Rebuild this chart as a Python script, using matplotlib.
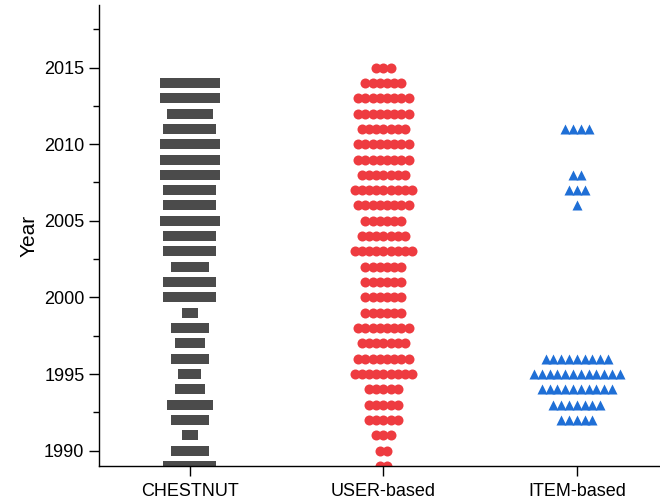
import matplotlib
matplotlib.use('Agg')
import matplotlib.pyplot as plt
import numpy as np
from matplotlib.ticker import MultipleLocator

plt.rcParams['font.family'] = ['Liberation Sans', 'DejaVu Sans']

categories = ['CHESTNUT', 'USER-based', 'ITEM-based']

chestnut_years = list(range(2014, 1988, -1))
chestnut_counts = [8, 8, 6, 7, 8, 8, 8, 7, 7, 8, 7, 7, 5, 7, 7, 2, 5, 4, 5, 3, 4, 6, 5, 2, 5, 7]

user_years = list(range(2015, 1988, -1))
user_counts = [3, 6, 8, 8, 7, 8, 8, 7, 9, 8, 6, 7, 9, 6, 6, 6, 6, 8, 7, 8, 9, 5, 5, 5, 3, 2, 2]

item_years = [2011, 2008, 2007, 2006, 1996, 1995, 1994, 1993, 1992]
item_counts = [4, 2, 3, 1, 9, 12, 10, 7, 5]

colors = ['#4b4b4b', '#ee3b40', '#1f6fd6']
rect = [(-0.78, -1), (0.78, -1), (0.78, 1), (-0.78, 1), (-0.78, -1)]
markers = [rect, 'o', '^']
sizes = [42, 52, 52]
spacing_px = [7.5, 7.2, 7.8]

W, H, DPI = 6.6, 5.03, 100
fig = plt.figure(figsize=(W, H), dpi=DPI)
ax = fig.add_axes([0.15, 0.0726, 0.85, 0.9174])
xmin, xmax = 0.53, 3.43
ax.set_xlim(xmin, xmax)
ax.set_ylim(1988.97, 2019.08)
px_per_unit = W * DPI * 0.85 / (xmax - xmin)

groups = [(chestnut_years, chestnut_counts), (user_years, user_counts), (item_years, item_counts)]
for gi, (years, counts) in enumerate(groups):
    xs, ys = [], []
    sp = spacing_px[gi] / px_per_unit
    for y, n in zip(years, counts):
        for i in range(n):
            xs.append(gi + 1 + (i - (n - 1) / 2) * sp)
            ys.append(y)
    ax.scatter(xs, ys, marker=markers[gi], s=sizes[gi], color=colors[gi],
               linewidths=0, zorder=2)

ax.set_xticks([1, 2, 3])
ax.set_xticklabels(categories, fontsize=13)
ax.yaxis.set_major_locator(MultipleLocator(5))
ax.yaxis.set_minor_locator(MultipleLocator(2.5))
ax.tick_params(axis='y', which='major', length=7, width=1, labelsize=13)
ax.tick_params(axis='y', which='minor', length=4, width=1)
ax.tick_params(axis='x', which='major', length=7, width=1, pad=5)
ax.set_ylabel('Year', fontsize=15)
for s in ['top', 'right']:
    ax.spines[s].set_visible(False)
for s in ['left', 'bottom']:
    ax.spines[s].set_linewidth(1)
    ax.spines[s].set_zorder(3)

fig.savefig('out.png', dpi=DPI)
